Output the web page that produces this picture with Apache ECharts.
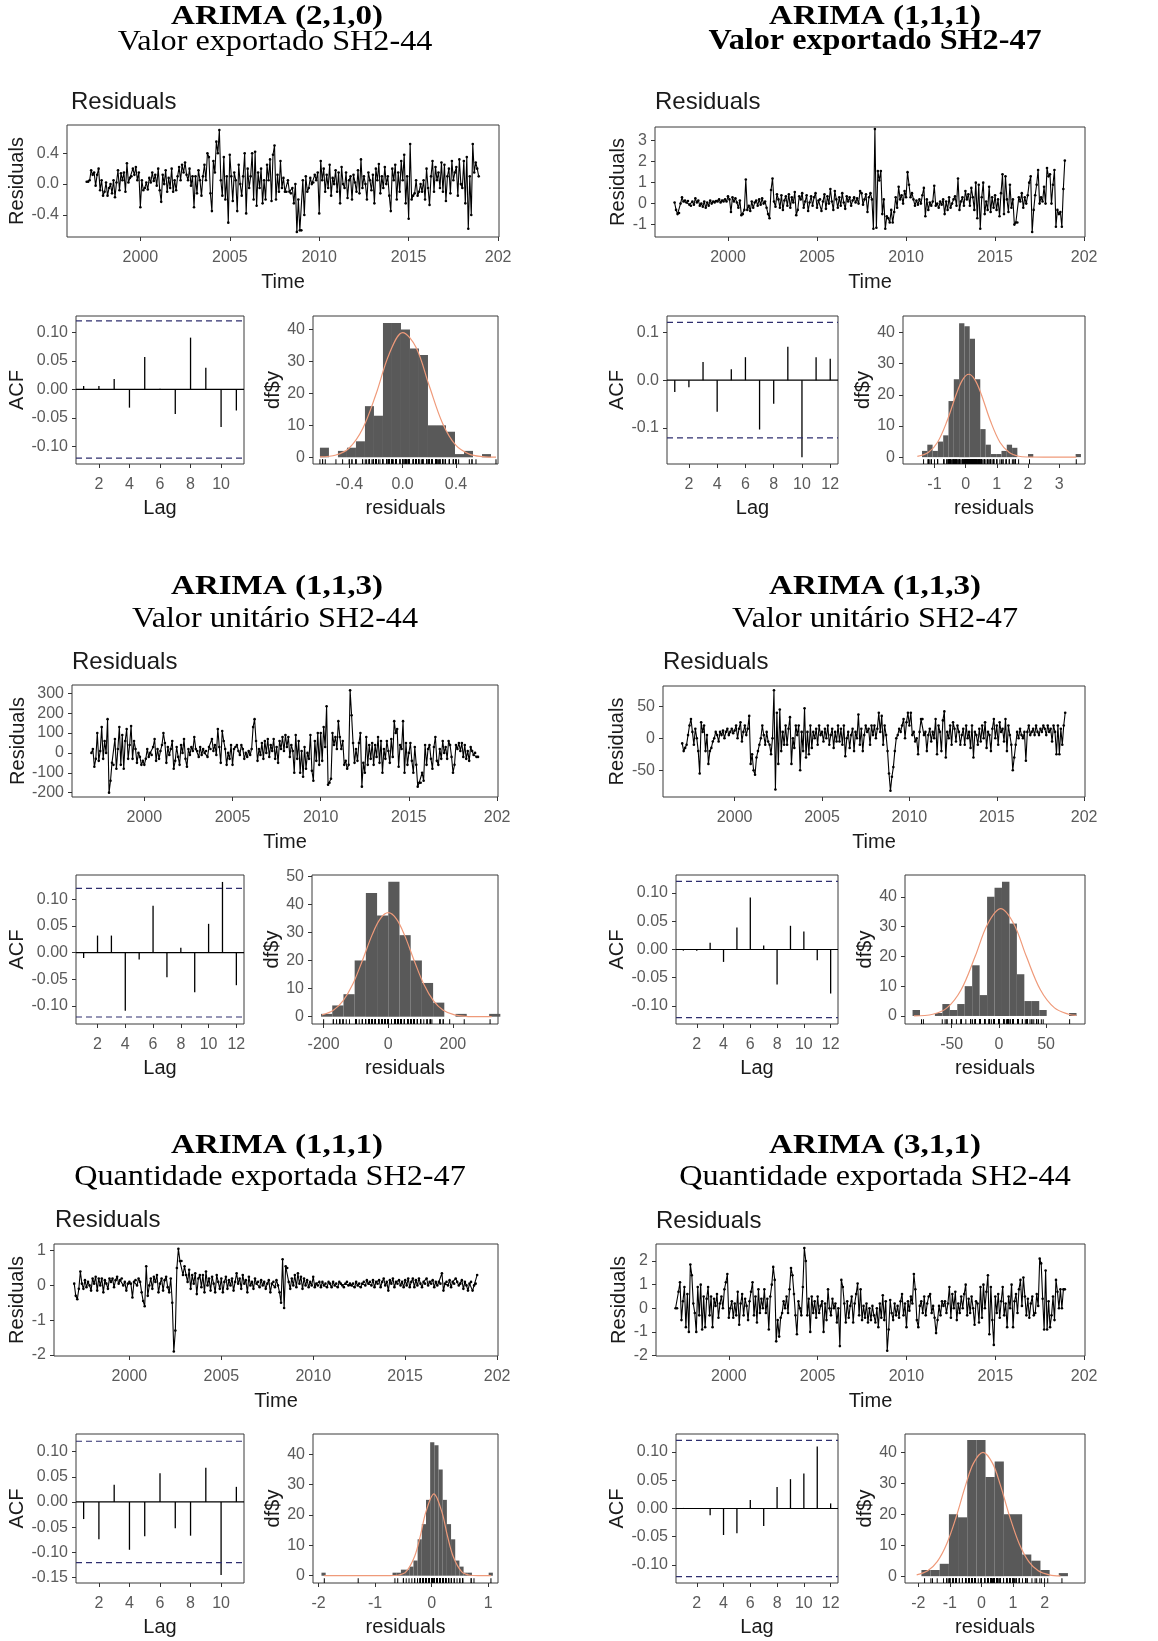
<!DOCTYPE html>
<html><head><meta charset="utf-8">
<script src="https://cdn.jsdelivr.net/npm/echarts/dist/echarts.min.js"></script>
<style>html,body{margin:0;padding:0;background:#fff}#c{width:1158px;height:1641px}</style>
</head><body><div id="c"></div>
<script>
// ---------------- DATA ----------------
const YEAR0 = 1997, FREQ = 12;
const titles = ['ARIMA (2,1,0)','ARIMA (1,1,1)','ARIMA (1,1,3)','ARIMA (1,1,3)','ARIMA (1,1,1)','ARIMA (3,1,1)'];
const subtitles = ['Valor exportado SH2-44','Valor exportado SH2-47','Valor unitário SH2-44','Valor unitário SH2-47','Quantidade exportada SH2-47','Quantidade exportada SH2-44'];

const residVE44 = [
0.03,0.03,0.05,0.18,0.12,0.15,-0.02,0.12,0.2,-0.08,0.05,-0.15,
-0.1,0.02,-0.15,-0.05,0.0,-0.12,0.05,-0.17,0.02,0.18,-0.08,0.14,
0.05,0.15,-0.1,0.27,0.02,0.08,0.1,0.2,0.12,0.22,0.05,0.15,
-0.3,0.05,-0.08,-0.05,0.02,-0.07,0.08,0.02,0.15,0.04,0.12,-0.02,
0.2,-0.08,-0.23,0.12,0.0,0.18,-0.1,0.08,-0.05,0.2,-0.1,0.05,
-0.08,0.1,0.22,0.05,0.25,0.15,0.28,0.12,0.05,0.2,-0.02,0.1,
-0.3,0.1,-0.12,0.18,0.05,-0.15,0.1,0.25,0.05,0.4,0.35,-0.12,
-0.35,0.3,0.15,0.55,0.4,0.7,0.05,-0.15,0.35,-0.2,0.1,-0.5,
0.38,0.1,-0.22,0.15,0.05,-0.35,0.25,0.0,-0.15,0.1,0.4,-0.38,
0.2,-0.05,0.1,0.4,-0.2,0.42,-0.28,0.15,-0.05,0.2,-0.25,0.05,
-0.2,0.25,0.05,0.32,-0.22,0.38,0.5,-0.2,0.12,-0.1,0.3,-0.05,
0.08,-0.1,-0.1,0.05,-0.1,-0.12,-0.05,-0.25,0.0,-0.62,-0.2,-0.6,
-0.6,0.05,-0.4,0.1,-0.1,-0.05,0.08,0.0,0.02,0.12,0.05,0.15,
-0.38,0.3,0.05,0.2,-0.1,0.12,-0.05,0.25,-0.15,0.08,0.0,0.18,
-0.1,0.15,-0.25,0.22,0.0,-0.05,0.15,-0.18,0.05,0.1,-0.2,0.12,
0.02,-0.1,0.18,-0.12,0.32,-0.05,0.1,0.0,-0.2,0.15,0.05,-0.08,
0.12,-0.25,0.2,0.05,0.26,-0.12,0.1,-0.05,0.22,0.0,0.1,-0.15,
-0.35,0.2,0.05,0.25,-0.2,0.15,-0.1,0.3,0.05,0.38,-0.25,0.1,
-0.45,0.52,-0.2,-0.15,-0.12,0.05,-0.15,-0.1,0.0,-0.1,0.05,-0.2,
0.2,-0.05,-0.27,0.1,0.3,-0.1,0.22,0.05,0.15,-0.05,0.28,-0.1,
0.25,-0.22,0.1,0.2,-0.12,0.3,0.05,0.15,0.22,-0.15,0.32,0.0,
-0.05,0.3,-0.25,0.35,-0.58,0.1,-0.4,0.52,0.15,0.28,0.2,0.1];

const residVE47 = [
0.05,-0.3,-0.5,-0.45,0.0,0.3,0.1,0.15,0.05,0.12,-0.05,-0.1,
0.1,-0.05,0.25,0.05,0.15,-0.1,0.0,-0.15,0.1,-0.2,0.05,-0.1,
0.15,0.0,0.1,0.05,0.12,0.1,0.2,0.05,0.15,0.1,0.2,0.1,
0.35,0.2,-0.4,0.3,0.1,0.25,0.05,-0.2,0.15,-0.55,-0.5,-0.3,
1.15,-0.3,-0.1,-0.35,0.1,-0.2,0.05,0.15,-0.1,0.2,-0.05,0.25,
0.0,0.1,-0.2,-0.5,-0.7,0.65,1.2,0.1,-0.15,0.45,0.2,-0.2,
0.4,-0.3,0.15,0.35,-0.1,0.45,-0.2,0.3,0.05,0.55,-0.55,-0.3,
0.35,0.2,0.5,-0.2,0.1,0.4,-0.35,0.05,0.35,-0.1,0.3,0.5,
-0.2,0.15,0.2,-0.35,0.1,0.45,-0.25,0.35,0.0,0.7,0.1,-0.3,
0.6,0.2,-0.2,0.3,-0.1,0.5,0.05,-0.25,0.35,0.1,0.3,-0.1,
0.15,0.3,0.05,0.25,0.0,0.6,0.5,-0.05,0.2,0.45,-0.4,0.3,
0.5,0.2,-1.2,3.55,-1.15,1.55,1.1,1.55,-0.5,0.2,-1.2,-0.6,
-0.7,-0.9,-0.3,-0.9,-0.4,0.3,-0.2,0.8,0.2,0.4,0.0,0.6,
0.3,1.5,0.9,0.3,0.5,0.2,-0.1,0.15,-0.05,0.2,0.0,0.4,
0.75,-0.6,0.2,-0.3,0.05,-0.1,0.1,0.85,-0.1,0.0,-0.2,0.1,
-0.05,0.2,-0.5,0.1,-0.3,0.3,-0.2,0.0,0.2,0.35,-0.1,1.2,
-0.3,0.1,0.3,-0.1,0.6,0.2,0.45,-0.1,0.75,0.3,-0.3,1.0,
-0.7,0.9,-1.2,0.3,1.0,-0.5,0.1,-0.3,0.8,-0.4,0.3,-0.2,
0.4,-0.3,0.2,-0.6,0.5,1.4,-0.5,1.3,0.2,-0.4,0.9,-0.2,
0.2,-1.0,-0.9,-0.9,0.3,0.1,0.5,-0.2,0.3,0.0,0.4,1.0,
1.3,-1.35,-0.3,0.4,0.9,1.6,0.0,0.3,0.1,0.8,0.0,1.7,
1.3,1.4,0.0,0.9,1.6,-1.1,-0.3,-0.5,-0.4,-1.1,0.7,2.05];

const residVU44 = [
0,20,-70,-30,100,-40,10,130,-30,60,0,170,
-200,-140,-50,-60,70,-80,20,130,-60,90,-80,60,
120,-30,40,135,-30,60,20,-50,0,-20,-60,-40,
-60,-30,20,-20,0,-10,30,70,-40,20,-30,10,
40,100,50,-50,30,-10,20,60,-80,-40,30,-20,
-60,40,0,70,-30,-70,20,-10,30,10,80,20,
10,-20,30,-10,20,0,10,-20,30,20,70,10,
40,-10,120,30,-50,110,60,20,-60,0,-30,40,
-60,20,30,40,10,-10,40,20,-30,0,-20,10,
-10,20,130,170,60,-40,20,-10,50,-30,60,0,
70,-20,40,10,70,-30,30,-50,60,20,80,10,
90,30,80,-20,40,10,-100,90,-30,60,-100,10,
-120,30,-80,0,-30,90,-90,-140,60,-40,100,-60,
100,-40,130,30,235,-160,-150,-130,100,40,80,20,
160,80,20,60,-60,-40,-80,-60,315,190,50,-50,
20,-40,50,100,-170,-50,-100,80,-60,40,-30,50,
-60,40,-20,80,-50,60,-100,20,-30,60,10,-50,
70,-20,160,100,120,-70,40,20,160,-100,50,-60,
0,50,-40,-100,30,-60,-170,-150,-150,-100,-140,40,
-60,20,40,-30,-80,30,80,-40,-60,20,-30,60,
0,30,-30,60,40,-20,-100,-60,40,20,50,10,
50,-20,40,-30,10,-40,30,10,-10,0,-20,-20];

const residVU47 = [
-8,-20,-15,-10,5,20,30,10,-10,15,0,-20,
-55,25,10,20,-20,5,-40,-20,-15,-5,0,10,
5,-5,10,5,12,0,10,15,5,10,15,8,
12,20,0,15,25,-5,10,20,5,15,35,-40,
-25,-50,-57,-30,-20,-10,0,20,5,-10,10,-5,
-10,-25,0,75,-80,40,-40,45,-20,10,-10,20,
-10,15,33,-40,0,-15,20,5,20,-50,10,-20,
47,-30,10,-25,20,-15,10,0,15,-10,20,5,
10,-5,15,0,20,-10,5,15,-15,10,-5,20,
-5,15,-10,20,-28,0,10,-15,5,15,-20,10,
0,37,-10,15,-20,5,20,10,15,-10,20,5,
20,0,15,40,10,35,-10,20,5,-20,-55,-82,
-60,-45,-20,0,5,15,10,20,30,0,25,40,
20,40,5,10,-5,0,-25,10,30,30,5,10,
-20,5,15,-5,10,0,30,-25,20,10,-20,28,
42,-30,10,0,20,-10,25,15,-5,20,10,-10,
5,15,-10,20,0,10,-15,20,-30,10,5,-10,
15,-5,20,0,25,-15,10,5,-20,15,30,0,
20,-10,25,10,15,-5,30,-20,20,5,-10,-50,
-30,-10,10,0,15,5,0,10,-35,10,20,5,
10,15,5,20,10,5,15,10,20,15,5,20,
10,15,-5,20,10,-25,20,-25,15,-10,20,40];

const residQE47 = [
0.05,-0.3,-0.4,-0.1,0.4,0.05,-0.1,0.15,-0.05,0.1,0.0,-0.15,
0.2,0.05,0.25,-0.15,0.2,0.0,0.2,-0.2,0.15,0.05,-0.1,0.2,
0.1,0.2,-0.05,0.15,0.25,0.05,0.15,0.2,0.0,0.1,-0.15,0.05,
0.1,0.05,-0.35,0.1,0.15,0.0,0.2,0.1,-0.2,-0.45,-0.6,0.55,
-0.3,0.0,0.2,-0.1,0.25,0.1,0.3,-0.2,0.05,0.2,-0.15,0.15,
0.25,-0.05,-0.2,0.2,-0.5,-1.9,-1.3,0.5,1.05,0.7,0.7,0.3,
0.55,0.3,0.1,0.45,-0.1,0.3,0.05,0.35,-0.25,0.2,0.3,-0.05,
0.3,-0.2,0.4,0.0,0.2,-0.15,0.25,0.05,-0.2,0.3,0.1,-0.1,
0.2,-0.2,0.1,0.25,-0.1,0.15,0.0,0.2,-0.15,0.1,0.35,0.05,
0.2,-0.1,0.3,0.05,0.15,-0.2,0.25,0.0,0.1,-0.1,0.2,0.05,
0.1,-0.05,0.15,0.0,0.1,-0.1,0.05,0.15,-0.2,0.05,0.1,-0.05,
0.15,0.0,-0.2,-0.5,0.75,-0.65,0.55,0.5,0.1,-0.1,0.2,0.0,
0.3,-0.05,0.35,0.05,0.25,-0.1,0.2,0.0,0.15,-0.05,0.1,0.0,
0.25,-0.05,0.05,0.0,0.1,-0.05,0.1,0.0,0.05,-0.05,0.1,0.05,
-0.05,0.1,0.0,0.05,-0.05,0.1,0.05,0.0,-0.05,0.05,0.1,0.0,
0.05,0.0,0.05,-0.05,0.1,0.0,0.05,-0.05,0.05,0.1,0.0,0.15,
0.05,0.1,0.0,0.15,-0.05,0.1,0.05,0.15,-0.05,0.1,0.2,0.0,
0.1,-0.15,0.15,0.05,0.2,-0.05,0.1,0.05,0.15,0.0,0.1,-0.05,
0.15,0.0,0.2,-0.05,0.1,0.2,-0.05,0.15,0.0,0.2,0.05,-0.05,
0.1,0.05,0.2,0.0,0.1,0.05,0.15,-0.05,0.1,0.0,0.1,0.05,
0.35,-0.15,0.05,0.1,0.0,0.15,-0.05,0.1,0.05,0.2,0.1,0.0,
0.05,0.15,-0.1,0.1,0.0,-0.15,0.05,0.1,-0.15,0.0,0.05,0.3];

const residQE44 = [
0.0,0.0,0.7,1.1,-0.5,0.3,0.9,-0.8,0.6,-1.0,1.85,1.4,
0.2,-0.2,-1.0,0.9,-0.3,1.0,-0.9,0.5,-0.8,0.4,0.9,-0.3,
0.5,-0.8,0.4,0.1,0.6,-0.4,0.2,0.5,0.0,0.8,1.1,1.45,
-0.4,0.0,0.3,-0.4,0.2,-0.3,0.7,-0.7,0.2,0.6,-0.3,0.4,
0.1,-0.5,0.3,0.7,1.1,-0.3,0.5,-0.6,0.8,-0.2,0.4,0.0,
0.8,-0.2,0.4,-0.9,0.5,1.0,1.75,1.2,-1.4,-0.5,-1.2,-0.4,
-0.2,0.3,0.0,0.5,-0.2,0.8,1.7,1.4,0.6,-0.3,-1.1,0.3,
0.0,-0.3,0.9,2.55,2.0,-0.3,0.4,-1.0,0.5,-0.2,0.3,-0.4,
0.5,-0.2,0.1,0.3,-1.0,0.2,-0.5,0.8,0.0,-0.3,0.4,0.0,
0.2,-0.6,0.0,-1.6,1.2,0.9,0.2,-0.6,0.3,-0.4,0.1,0.5,
-0.6,0.2,0.6,1.05,-0.3,0.8,-0.5,0.1,-0.4,0.2,-0.6,0.0,
-0.5,0.1,-0.3,-0.6,0.0,-0.8,0.2,-0.4,0.55,-0.5,0.3,-1.8,
-0.9,0.35,-0.2,-0.5,0.2,-0.3,0.1,-0.4,0.3,0.6,-0.3,0.2,
-0.8,0.3,-0.1,0.5,0.2,1.45,0.8,-0.5,-0.8,0.1,0.3,-0.2,
0.5,-0.3,0.2,0.5,0.6,-0.2,0.1,-0.4,-1.05,-0.5,0.1,-0.3,
0.3,0.1,0.3,-0.2,0.2,0.9,-0.4,0.6,0.0,0.7,-0.5,0.2,
-0.2,0.5,0.0,0.6,1.0,-0.3,0.4,-0.2,0.5,0.0,-0.7,0.3,
0.2,-0.6,0.9,-0.4,1.0,0.0,0.7,1.4,-1.1,0.9,-0.5,-1.55,
0.5,-0.2,0.6,-0.4,0.3,0.9,-0.3,0.2,-0.8,0.5,0.0,1.0,
-0.8,0.3,0.6,-0.2,0.8,1.2,0.1,1.3,0.5,-0.3,0.4,-0.4,
0.2,0.5,-0.3,-0.2,0.6,0.1,2.1,1.9,0.4,-0.9,1.6,-0.9,
0.3,-0.8,-0.3,0.5,-0.5,1.2,0.7,0.0,0.8,0.0,0.8,0.8];

// ACF values, lags 1..n
const acfVE44 = [0.006,0.006,0.0185,-0.032,0.057,0.001,-0.043,0.091,0.038,-0.066,-0.037];
const acfVE47 = [-0.0245,-0.015,0.038,-0.066,0.023,0.048,-0.103,-0.049,0.07,-0.161,0.048,0.045];
const acfVU44 = [-0.01,0.032,0.032,-0.109,-0.013,0.088,-0.046,0.009,-0.074,0.054,0.1325,-0.061];
const acfVU47 = [-0.002,-0.002,0.012,-0.022,0.039,0.092,0.007,-0.062,0.042,0.032,-0.019,-0.078];
const acfQE47 = [-0.034,-0.074,0.034,-0.095,-0.068,0.057,-0.052,-0.067,0.068,-0.145,0.030];
const acfQE44 = [0.001,-0.001,-0.012,-0.047,-0.044,0.015,-0.031,0.038,0.052,0.062,0.110,0.009];
const acfBound = 0.1206;

// Histograms: first bin edge, bin width, counts
const binVE44 = [-0.62, 0.0675];
const histVE44 = [3,0,2,3,5,16,13,42,42,40,34,32,10,10,8,1,2,0,1];
const binVE47 = [-1.4, 0.17];
const histVE47 = [2,4,2,5,7,18,25,43,42,38,25,9,4,1,1,2,4,3,0,0,1,0,0,0,0,0,0,0,0,1];
const binVU44 = [-208, 34.67];
const histVU44 = [1,4,8,20,44,36,48,29,20,12,5,0,1,0,0,1];
const binVU47 = [-91.5, 7.9];
const histVU47 = [2,0,0,1,4,2,4,10,17,7,40,43,45,31,14,5,5,2,0,0,0,1];
const binQE47 = [-1.95, 0.074];
const histQE47 = [1,0,0,0,0,0,0,0,0,0,0,0,0,0,0,0,0,1,1,2,2,3,5,12,17,25,44,43,35,25,17,12,5,3,1,1,0,0,0,0,1];
const binQE44 = [-1.9, 0.29];
const histQE44 = [2,2,4,20,19,44,44,32,37,20,20,7,5,2,0,1];

// Normal curves (x, scaled density)
const curveVE44 = [[-0.62,0.1],[-0.5,0.7],[-0.4,2.9],[-0.3,8.9],[-0.2,19.7],[-0.1,32.4],[0.0,39],[0.1,34.4],[0.2,22.3],[0.3,10.6],[0.4,3.7],[0.5,1.0],[0.6,0.2],[0.7,0.02]];
const curveVE47 = [[-1.55,0.25],[-1.2,1.5],[-0.9,4.8],[-0.6,11.5],[-0.3,20.2],[-0.1,24.8],[0.1,26.6],[0.3,24.8],[0.5,20.2],[0.8,11.5],[1.1,4.8],[1.4,1.5],[1.7,0.3],[2.0,0.04],[2.5,0],[3.0,0],[3.55,0]];
const curveVU44 = [[-205,0.64],[-170,2.3],[-140,5.6],[-110,11.5],[-80,20],[-50,29.1],[-25,34.8],[0,37],[25,34.8],[50,29.1],[80,20],[110,11.5],[140,5.6],[170,2.3],[205,0.64],[240,0.14],[280,0.01],[320,0]];
const curveVU47 = [[-90,0.04],[-70,0.57],[-55,2.7],[-40,8.8],[-25,20.1],[-12,30.8],[2,36],[16,30.8],[29,20.1],[44,8.8],[59,2.7],[74,0.57],[82,0.2]];
const curveQE47 = [[-1.9,0],[-1.2,0],[-0.75,0.01],[-0.6,0.16],[-0.45,1.35],[-0.3,6.4],[-0.2,13.1],[-0.1,21.1],[0.04,27],[0.18,21.1],[0.28,13.1],[0.38,6.4],[0.53,1.35],[0.68,0.16],[0.83,0.01],[1.05,0]];
const curveQE44 = [[-2.05,0.44],[-1.7,1.76],[-1.4,4.7],[-1.1,10.4],[-0.8,19.1],[-0.5,29.4],[-0.25,36.5],[0.05,40],[0.35,36.5],[0.6,29.4],[0.9,19.1],[1.2,10.4],[1.5,4.7],[1.8,1.76],[2.15,0.44],[2.5,0.09]];

// Tick values
const tsXTicks = [2000,2005,2010,2015,2020];
const tsYTicks = [[-0.4,0,0.4],[-1,0,1,2,3],[-200,-100,0,100,200,300],[-50,0,50],[-2,-1,0,1],[-2,-1,0,1,2]];
const acfYTicks = [[-0.10,-0.05,0,0.05,0.10],[-0.1,0,0.1],[-0.10,-0.05,0,0.05,0.10],[-0.10,-0.05,0,0.05,0.10],[-0.15,-0.10,-0.05,0,0.05,0.10],[-0.10,-0.05,0,0.05,0.10]];
const acfXTicks = [[2,4,6,8,10],[2,4,6,8,10,12],[2,4,6,8,10,12],[2,4,6,8,10,12],[2,4,6,8,10],[2,4,6,8,10,12]];
const histXTicks = [[-0.4,0,0.4],[-1,0,1,2,3],[-200,0,200],[-50,0,50],[-2,-1,0,1],[-2,-1,0,1,2]];
const histYTicks = [[0,10,20,30,40],[0,10,20,30,40],[0,10,20,30,40,50],[0,10,20,30,40],[0,10,20,30,40],[0,10,20,30,40]];

// ---------------- LAYOUT ----------------
const panels = [
 {resid:residVE44, acf:acfVE44, hist:histVE44, bin:binVE44, curve:curveVE44, subBold:false,
  title:[277,17], sub:[275,42], head:[71,102],
  ts:[67,125,432,112], acfG:[76,316,168,148], histG:[313,316,185,148],
  tsY:[-0.686,0.766], tsDec:1, acfY:[-0.131,0.129], acfDec:2, acfX:[0.5,11.5],
  histX:[-0.672,0.715], histDec:1, histY:[-2.1,44.2], gaps:[40,48,28]},
 {resid:residVE47, acf:acfVE47, hist:histVE47, bin:binVE47, curve:curveVE47, subBold:true,
  title:[875,17], sub:[875,42], head:[655,102],
  ts:[655,127,430,110], acfG:[667,316,171,148], histG:[903,316,182,148],
  tsY:[-1.59,3.65], tsDec:0, acfY:[-0.175,0.134], acfDec:1, acfX:[0.45,12.55],
  histX:[-2.01,3.83], histDec:0, histY:[-2.2,45.3], gaps:[26,38,28]},
 {resid:residVU44, acf:acfVU44, hist:histVU44, bin:binVU44, curve:curveVU44, subBold:false,
  title:[277,587], sub:[275,619], head:[72,662],
  ts:[72,685,426,112], acfG:[76,875,168,149], histG:[312,875,186,149],
  tsY:[-222,342], tsDec:0, acfY:[-0.1337,0.1455], acfDec:2, acfX:[0.45,12.55],
  histX:[-236,339.5], histDec:0, histY:[-2.6,50.4], gaps:[44,48,26]},
 {resid:residVU47, acf:acfVU47, hist:histVU47, bin:binVU47, curve:curveVU47, subBold:false,
  title:[875,587], sub:[875,619], head:[663,662],
  ts:[663,686,422,111], acfG:[676,875,162,149], histG:[905,875,180,149],
  tsY:[-91.7,81.7], tsDec:0, acfY:[-0.132,0.132], acfDec:2, acfX:[0.45,12.55],
  histX:[-99.5,91.3], histDec:0, histY:[-2.7,47.3], gaps:[34,47,28]},
 {resid:residQE47, acf:acfQE47, hist:histQE47, bin:binQE47, curve:curveQE47, subBold:false,
  title:[277,1146], sub:[270,1177], head:[55,1220],
  ts:[54,1244,444,112], acfG:[76,1434,168,149], histG:[313,1434,185,149],
  tsY:[-2.03,1.19], tsDec:0, acfY:[-0.161,0.135], acfDec:2, acfX:[0.5,11.5],
  histX:[-2.1,1.175], histDec:0, histY:[-2.4,46.7], gaps:[26,48,27]},
 {resid:residQE44, acf:acfQE44, hist:histQE44, bin:binQE44, curve:curveQE44, subBold:false,
  title:[875,1146], sub:[875,1177], head:[656,1221],
  ts:[656,1244,429,112], acfG:[676,1434,162,149], histG:[905,1434,180,149],
  tsY:[-2.02,2.72], tsDec:0, acfY:[-0.132,0.132], acfDec:2, acfX:[0.45,12.55],
  histX:[-2.42,3.28], histDec:0, histY:[-2.2,45.9], gaps:[27,47,28]}
];

const SANS = '"Liberation Sans", Arial, sans-serif';
const SERIF = '"Liberation Serif", "Times New Roman", serif';
const TICK_COLOR = '#5a5a5a';

function axis(gi, min, max, ticks, fmt, name, gap, isX) {
  return {
    type:'value', gridIndex:gi, min:min, max:max,
    axisLine:{show:false, onZero:false},
    axisTick:{show:true, customValues:ticks, length:4, lineStyle:{color:'#333', width:1}},
    axisLabel:{show:true, customValues:ticks, formatter:fmt, fontSize:16, fontFamily:SANS, color:TICK_COLOR, margin: isX ? 13 : 8},
    splitLine:{show:false},
    name:name, nameLocation:'middle', nameGap:gap,
    nameTextStyle:{fontSize:20, fontFamily:SANS, color:'#1a1a1a'}
  };
}
function decFmt(d) { return function(v){ return Number(v).toFixed(d); }; }
function gridOf(g) {
  return {left:g[0], top:g[1], width:g[2], height:g[3], show:true, borderColor:'#3a3a3a', borderWidth:1, backgroundColor:'#fff'};
}

const grids=[], xAxes=[], yAxes=[], series=[], graphics=[];

panels.forEach(function(p, k){
  graphics.push({type:'text', x:p.title[0], y:p.title[1], scaleX:1.18, style:{text:titles[k], font:'bold 28px '+SERIF, fill:'#000', align:'center', verticalAlign:'middle', textAlign:'center', textVerticalAlign:'middle'}});
  graphics.push({type:'text', x:p.sub[0], y:p.sub[1], scaleX:1.11, style:{text:subtitles[k], font:(p.subBold?'bold ':'')+'29px '+SERIF, fill:'#000', align:'center', verticalAlign:'middle', textAlign:'center', textVerticalAlign:'middle'}});
  graphics.push({type:'text', x:p.head[0], y:p.head[1], style:{text:'Residuals', font:'24px '+SANS, fill:'#1a1a1a', align:'left', verticalAlign:'middle', textAlign:'left', textVerticalAlign:'middle'}});

  // ---- time series
  let gi = grids.length;
  grids.push(gridOf(p.ts));
  xAxes.push(axis(gi, 1995.9, 2020.05, tsXTicks, function(v){ return v===2020 ? '202' : String(v); }, 'Time', 35, true));
  yAxes.push(axis(gi, p.tsY[0], p.tsY[1], tsYTicks[k], decFmt(p.tsDec), 'Residuals', p.gaps[0], false));
  series.push({type:'line', xAxisIndex:gi, yAxisIndex:gi,
    data:p.resid.map(function(v,i){ return [YEAR0 + i/FREQ, v]; }),
    showSymbol:true, symbol:'circle', symbolSize:2.6, itemStyle:{color:'#000'},
    lineStyle:{color:'#000', width:1.1}, silent:true});

  // ---- ACF
  gi = grids.length;
  grids.push(gridOf(p.acfG));
  xAxes.push(axis(gi, p.acfX[0], p.acfX[1], acfXTicks[k], function(v){return String(v);}, 'Lag', 34, true));
  yAxes.push(axis(gi, p.acfY[0], p.acfY[1], acfYTicks[k], decFmt(p.acfDec), 'ACF', p.gaps[1], false));
  series.push({type:'line', xAxisIndex:gi, yAxisIndex:gi, data:[[p.acfX[0],0],[p.acfX[1],0]], showSymbol:false, lineStyle:{color:'#000', width:1.2}, silent:true});
  [acfBound, -acfBound].forEach(function(b){
    series.push({type:'line', xAxisIndex:gi, yAxisIndex:gi, data:[[p.acfX[0],b],[p.acfX[1],b]], showSymbol:false, lineStyle:{color:'#2e2e6e', width:1.2, type:[6,4]}, silent:true});
  });
  series.push({type:'custom', xAxisIndex:gi, yAxisIndex:gi, encode:{x:0, y:1}, silent:true,
    data:p.acf.map(function(v,i){ return [i+1, v]; }),
    renderItem:function(params, api){
      const a = api.coord([api.value(0), 0]), b = api.coord([api.value(0), api.value(1)]);
      return {type:'line', shape:{x1:a[0], y1:a[1], x2:b[0], y2:b[1]}, style:{stroke:'#000', lineWidth:1.3}};
    }});

  // ---- histogram
  gi = grids.length;
  grids.push(gridOf(p.histG));
  xAxes.push(axis(gi, p.histX[0], p.histX[1], histXTicks[k], decFmt(p.histDec), 'residuals', 34, true));
  yAxes.push(axis(gi, p.histY[0], p.histY[1], histYTicks[k], decFmt(0), 'df$y', p.gaps[2], false));
  const b0 = p.bin[0], bw = p.bin[1];
  series.push({type:'custom', xAxisIndex:gi, yAxisIndex:gi, encode:{x:[0,1], y:2}, silent:true,
    data:p.hist.map(function(c,i){ return [b0 + i*bw, b0 + (i+1)*bw, c]; }),
    renderItem:function(params, api){
      const c = api.value(2);
      if (!c) return null;
      const p0 = api.coord([api.value(0), c]), p1 = api.coord([api.value(1), 0]);
      return {type:'rect', shape:{x:p0[0], y:p0[1], width:p1[0]-p0[0], height:p1[1]-p0[1]}, style:{fill:'#595959'}};
    }});
  series.push({type:'custom', xAxisIndex:gi, yAxisIndex:gi, encode:{x:0, y:1}, silent:true,
    data:p.resid.map(function(v){ return [v, 0]; }),
    renderItem:function(params, api){
      const cs = params.coordSys;
      const x = api.coord([api.value(0), 0])[0];
      const yb = cs.y + cs.height;
      return {type:'line', shape:{x1:x, y1:yb, x2:x, y2:yb - cs.height*0.032}, style:{stroke:'#000', lineWidth:1}};
    }});
  series.push({type:'line', xAxisIndex:gi, yAxisIndex:gi, data:p.curve, smooth:0.35, showSymbol:false,
    lineStyle:{color:'#ef9a7a', width:1.2}, silent:true});
});

const chart = echarts.init(document.getElementById('c'), null, {renderer:'canvas'});
chart.setOption({
  animation:false,
  backgroundColor:'#fff',
  textStyle:{fontFamily:SANS},
  grid:grids, xAxis:xAxes, yAxis:yAxes, series:series, graphic:graphics
});
</script></body></html>
